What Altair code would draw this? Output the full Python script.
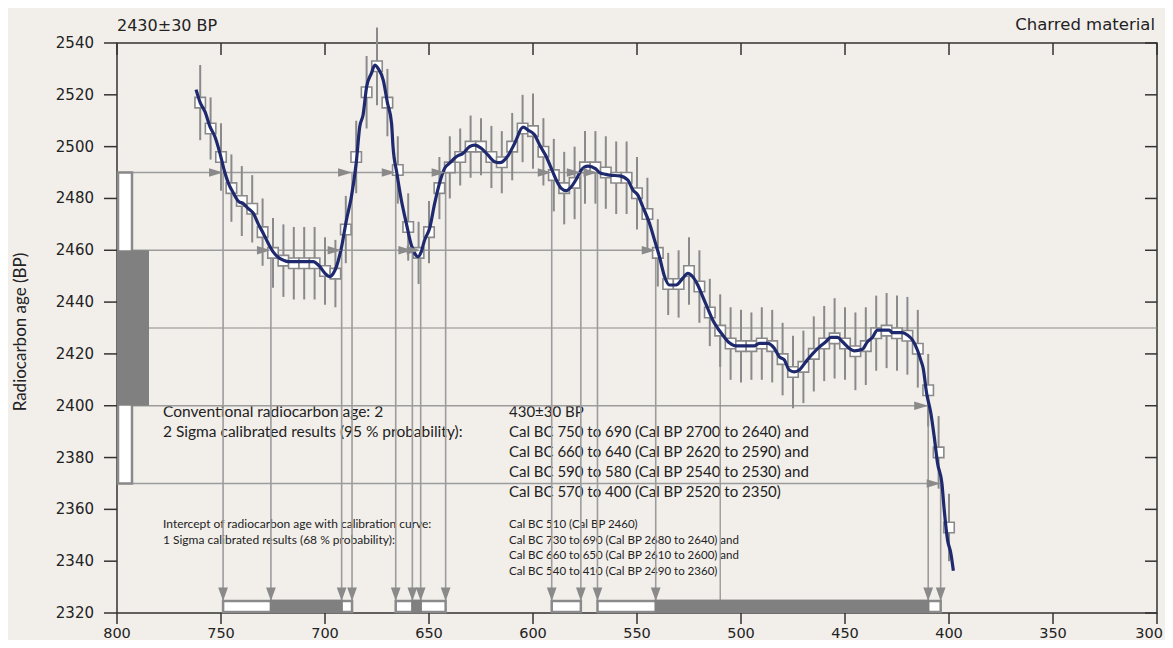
import altair as alt
import pandas as pd

# ---------------- data ----------------
x_ticks = [800, 750, 700, 650, 600, 550, 500, 450, 400, 350, 300]
y_ticks = [2320, 2340, 2360, 2380, 2400, 2420, 2440, 2460, 2480, 2500, 2520, 2540]

# calibration data points (cal BC, radiocarbon age BP, 1-sigma error)
pt_year = [760, 755, 750, 745, 740, 735, 730, 725, 720, 715, 710, 705, 700, 695, 690, 685,
           680, 675, 670, 665, 660, 655, 650, 645, 640, 635, 630, 625, 620, 615, 610, 605,
           600, 595, 590, 585, 580, 575, 570, 565, 560, 555, 550, 545, 540, 535, 530, 525,
           520, 515, 510, 505, 500, 495, 490, 485, 480, 475, 470, 465, 460, 455, 450, 445,
           440, 435, 430, 425, 420, 415, 410, 405, 400]
pt_bp = [2517, 2507, 2496, 2484, 2479, 2476, 2467, 2459, 2456, 2455, 2455, 2455, 2452, 2451, 2468, 2496,
         2521, 2531, 2517, 2491, 2469, 2459, 2467, 2484, 2492, 2496, 2500, 2500, 2496, 2494, 2500, 2507,
         2506, 2498, 2489, 2484, 2486, 2492, 2492, 2490, 2488, 2488, 2482, 2474, 2459, 2447, 2447, 2452,
         2446, 2436, 2429, 2424, 2423, 2423, 2424, 2423, 2418, 2413, 2415, 2420, 2424, 2426, 2424, 2421,
         2423, 2428, 2429, 2428, 2427, 2422, 2406, 2382, 2353]
pt_err = [14.5, 12, 13, 13, 13.5, 13, 13, 13.5, 14, 14, 14, 14, 13, 13, 13, 14,
          14, 15, 13, 13, 13, 12, 12, 12, 12, 11, 12, 11, 12, 12, 13, 13,
          14.5, 13, 14, 14, 14, 14, 14, 14, 14, 14, 14, 14, 13, 12, 13, 13,
          14, 13, 14, 14, 14, 13, 14, 14, 14, 14, 14, 14.5, 14.5, 15.5, 14, 15,
          15, 14.5, 14.5, 14.5, 15, 15, 14, 14, 13]

# calibration curve
curve_year = [762, 760, 757.7, 755.3, 753, 750.5, 748.5, 746.5, 744, 741.7, 739.3, 737, 734.5, 732,
              729.7, 727.3, 725, 722.5, 720, 717.7, 712, 705.7, 702.5, 700, 697.7, 696, 694.5, 692,
              689.7, 687.3, 685, 683.3, 681.7, 680, 677.7, 676, 674.5, 672, 670, 668, 667.3, 665.5,
              663.3, 660.9, 658.5, 657, 655.3, 653.7, 652.1, 649.7, 647.3, 644.9, 642.5, 640.1, 636.9,
              633.7, 630.5, 628.1, 624.9, 621.7, 618.5, 616, 612.1, 608.8, 604.8, 602.4, 599.2, 596.8,
              593.6, 591.2, 588.8, 586.4, 584, 581.6, 579.2, 576.8, 573.6, 570, 568, 565, 563.2, 558.4,
              554.4, 552, 549.6, 547.2, 544, 541.6, 539.2, 536.8, 534.4, 531.2, 528, 525.6, 523.2,
              520.8, 518.4, 516, 513.6, 511.2, 508.8, 505.6, 502.4, 497.6, 493.6, 491.2, 487.2, 484,
              481.6, 479.2, 476.8, 474.4, 472, 468.8, 465.6, 462.4, 459.2, 456.8, 453.6, 451.2, 448,
              445.6, 441.6, 439.2, 436.8, 434.4, 432, 428.8, 427.2, 422.4, 420, 417.6, 415.2, 413.6,
              412.4, 410.8, 408.7, 407.1, 405.5, 403.4, 402.3, 400.7, 399.1, 397.9]
curve_bp = [2522, 2517, 2513.5, 2507.7, 2504, 2497.4, 2491, 2486, 2482, 2479, 2478, 2476.2, 2474.3, 2470,
            2466.6, 2462.7, 2459.5, 2457.3, 2456.2, 2455.6, 2455.6, 2455.6, 2453.7, 2451.1, 2449.8, 2451.1, 2453.7, 2461.4,
            2471.7, 2480.7, 2493.6, 2507.7, 2512.2, 2523, 2528.3, 2531.5, 2530.2, 2525.7, 2517, 2509, 2500, 2490,
            2479.4, 2470.4, 2462, 2459, 2457.5, 2459.5, 2464, 2468.5, 2478, 2486, 2491.6, 2493.6, 2496.1,
            2497.4, 2500, 2500.6, 2499.4, 2496.8, 2494.2, 2493.8, 2496.4, 2501.3, 2507.5, 2506.4, 2504.5, 2500.6,
            2496.1, 2491.6, 2487.1, 2483.9, 2483, 2484.5, 2487.4, 2491, 2492.5, 2491.5, 2490, 2489.3, 2489, 2488.7,
            2487.1, 2483.3, 2481.3, 2476.8, 2470.4, 2464, 2457.5, 2450, 2446.6, 2446.6, 2449.2, 2451.1, 2449.8,
            2446.6, 2442.1, 2437.6, 2433.1, 2429.9, 2427.3, 2424.3, 2423.1, 2423.1, 2423.1, 2424.1, 2424.1, 2422.2,
            2418.9, 2417.7, 2413.8, 2413.1, 2413.8, 2417, 2420, 2422.6, 2424.7, 2426.4, 2426.4, 2424.7, 2422.2,
            2421.2, 2421.8, 2424.7, 2426.4, 2429.2, 2429.2, 2429.2, 2428.2, 2428.2, 2427.3, 2425.4, 2421.5, 2417.7,
            2414.4, 2405, 2397, 2388, 2377.8, 2370, 2359.8, 2348.2, 2343, 2336.3]

age_bp = [2430]
sigma1_bp = [2460, 2400]
sigma2_bp = [2490, 2370]

line_level = [2490, 2460, 2400, 2370]
line_from = [800, 800, 800, 800]
line_to = [569, 541, 410, 404]

icpt_year = [749, 726, 692, 687, 666, 658, 654, 642, 591, 577, 569, 541, 410, 404]
icpt_level = [2490, 2460, 2460, 2490, 2490, 2460, 2460, 2490, 2490, 2490, 2490, 2460, 2400, 2370]
mean_icpt_year = [510]

s2_from = [749, 666, 591, 569]
s2_to = [687, 642, 577, 404]
s1_from = [726, 658, 541]
s1_to = [692, 654, 410]

conv_label_lines = ["Conventional radiocarbon age: 2",
                    "2 Sigma calibrated results (95 % probability):"]
conv_value_lines = ["430\u00b130 BP",
                    "Cal BC 750 to 690 (Cal BP 2700 to 2640) and",
                    "Cal BC 660 to 640 (Cal BP 2620 to 2590) and",
                    "Cal BC 590 to 580 (Cal BP 2540 to 2530) and",
                    "Cal BC 570 to 400 (Cal BP 2520 to 2350)"]
small_label_lines = ["Intercept of radiocarbon age with calibration curve:",
                     "1 Sigma calibrated results (68 % probability):"]
small_value_lines = ["Cal BC 510 (Cal BP 2460)",
                     "Cal BC 730 to 690 (Cal BP 2680 to 2640) and",
                     "Cal BC 660 to 650 (Cal BP 2610 to 2600) and",
                     "Cal BC 540 to 410 (Cal BP 2490 to 2360)"]
sample_label = "2430\u00b130 BP"
material_label = "Charred material"
y_title = "Radiocarbon age (BP)"

# ---------------- frames ----------------
pts = pd.DataFrame({"year": pt_year, "bp": pt_bp, "err": pt_err})
pts["lo"] = pts["bp"] - pts["err"]
pts["hi"] = pts["bp"] + pts["err"]
curve = pd.DataFrame({"year": curve_year, "bp": curve_bp})
hlines = pd.DataFrame({"level": line_level, "x0": line_from, "x1": line_to})
mean_line = pd.DataFrame({"level": age_bp, "x0": [800], "x1": [300]})
icpt = pd.DataFrame({"year": icpt_year, "level": icpt_level})
mean_icpt = pd.DataFrame({"year": mean_icpt_year, "level": age_bp})
s2 = pd.DataFrame({"x0": s2_from, "x1": s2_to})
s1 = pd.DataFrame({"x0": s1_from, "x1": s1_to})
box2 = pd.DataFrame({"hi": [sigma2_bp[0]], "lo": [sigma2_bp[1]]})
box1 = pd.DataFrame({"hi": [sigma1_bp[0]], "lo": [sigma1_bp[1]]})
xt = pd.DataFrame({"year": x_ticks})
yt = pd.DataFrame({"bp": y_ticks})
one = pd.DataFrame({"k": [0]})

W, H = 1040, 570
GRAY_LINE = "#9c9c9c"
GRAY_MARK = "#8a8a8a"
FILL_GRAY = "#808080"
NAVY = "#1f2a6e"
INK = "#222222"
AXIS_INK = "#333333"

XS = alt.Scale(domain=[300, 800], reverse=True, nice=False, zero=False)
YS = alt.Scale(domain=[2320, 2540], nice=False, zero=False)


def X(f, **kw):
    return alt.X(f, type="quantitative", scale=XS, axis=None, **kw)


def Y(f, **kw):
    return alt.Y(f, type="quantitative", scale=YS, axis=None, **kw)


# error bars
err_bars = alt.Chart(pts).mark_rule(color=GRAY_MARK, strokeWidth=2).encode(
    x=X("year"), y=Y("lo"), y2="hi")


def text_block(lines, px, py, size, lh, font="Lato"):
    return alt.Chart(one).mark_text(text=lines, align="left", baseline="alphabetic",
                                    font=font, fontSize=size, lineHeight=lh, color=INK).encode(
        x=alt.value(px), y=alt.value(py))


t1 = text_block(conv_label_lines, 46, 374, 15.5, 20)
t2 = text_block(conv_value_lines, 392, 374, 15, 20)
t3 = text_block(small_label_lines, 46, 485, 12, 15.5)
t4 = text_block(small_value_lines, 392, 485, 11.5, 15.5)

t_sample = alt.Chart(one).mark_text(text=sample_label, align="left", baseline="middle",
                                    font="DejaVu Sans", fontSize=16, color=INK).encode(
    x=alt.value(0), y=alt.value(-17))
t_mat = alt.Chart(one).mark_text(text=material_label, align="right", baseline="middle",
                                 font="DejaVu Sans", fontSize=16.5, color=INK).encode(
    x=alt.value(W - 2), y=alt.value(-18))
t_ytitle = alt.Chart(one).mark_text(text=y_title, align="center", baseline="middle",
                                    font="Lato", fontSize=17, color=INK, angle=270).encode(
    x=alt.value(-96), y=alt.value(289))

# horizontal range lines
h_rules = alt.Chart(hlines).mark_rule(color=GRAY_LINE, strokeWidth=1.6).encode(
    x=X("x0"), x2="x1", y=Y("level"))
m_rule = alt.Chart(mean_line).mark_rule(color="#8c8c8c", strokeWidth=1.2).encode(
    x=X("x0"), x2="x1", y=Y("level"))

# vertical drop lines
v_rules = alt.Chart(icpt).mark_rule(color=GRAY_LINE, strokeWidth=1.6).encode(
    x=X("year"), y=Y("level"), y2=alt.value(558))
m_vrule = alt.Chart(mean_icpt).mark_rule(color="#8c8c8c", strokeWidth=1.2).encode(
    x=X("year"), y=Y("level"), y2=alt.value(558))

# squares and curve
squares = alt.Chart(pts).mark_point(shape="square", filled=True, fill="white", stroke=GRAY_MARK,
                                    strokeWidth=1.6, size=110, opacity=1, fillOpacity=1).encode(
    x=X("year"), y=Y("bp"))
curve_line = alt.Chart(curve).mark_line(color=NAVY, strokeWidth=3.2, interpolate="monotone").encode(
    x=X("year"), y=Y("bp"))

# arrowheads
RIGHT_ARROW = "M-1,-0.3L-1,0.3L0,0Z"
DOWN_ARROW = "M-0.36,-1L0.36,-1L0,0Z"
h_arrows = alt.Chart(icpt).mark_point(shape=RIGHT_ARROW, size=784, filled=True, color=GRAY_MARK,
                                      opacity=1, strokeWidth=0).encode(x=X("year"), y=Y("level"))
v_arrows = alt.Chart(icpt).mark_point(shape=DOWN_ARROW, size=729, filled=True, color=GRAY_MARK,
                                      opacity=1, strokeWidth=0).encode(x=X("year"), y=alt.value(558))

# bottom range bars
bar2 = alt.Chart(s2).mark_rect(fill="white", stroke=GRAY_MARK, strokeWidth=2.5).encode(
    x=X("x0"), x2="x1", y=alt.value(558), y2=alt.value(569))
bar1 = alt.Chart(s1).mark_rect(fill=FILL_GRAY, stroke=FILL_GRAY, strokeWidth=2.5).encode(
    x=X("x0"), x2="x1", y=alt.value(558), y2=alt.value(569))

# left range boxes
lbox2 = alt.Chart(box2).mark_rect(fill="white", stroke=GRAY_MARK, strokeWidth=2.5).encode(
    x=alt.value(1), x2=alt.value(15), y=Y("hi"), y2="lo")
lbox1 = alt.Chart(box1).mark_rect(fill=FILL_GRAY).encode(
    x=alt.value(0), x2=alt.value(32), y=Y("hi"), y2="lo")

# axes drawn from the tick arrays
top_ticks = alt.Chart(xt).mark_rule(color=AXIS_INK, strokeWidth=1.5).encode(
    x=X("year"), y=alt.value(0), y2=alt.value(12))
bottom_ticks = alt.Chart(xt).mark_rule(color=AXIS_INK, strokeWidth=1.5).encode(
    x=X("year"), y=alt.value(H), y2=alt.value(H + 11))
bottom_labels = alt.Chart(xt).transform_filter(alt.datum.year > 300).mark_text(
    font="DejaVu Sans", fontSize=14.5, color=INK, baseline="middle", align="center").encode(
    x=X("year"), y=alt.value(H + 21), text=alt.Text("year:Q", format="d"))
last_label = alt.Chart(xt).transform_filter(alt.datum.year == 300).mark_text(
    font="DejaVu Sans", fontSize=14.5, color=INK, baseline="middle", align="right", dx=6).encode(
    x=X("year"), y=alt.value(H + 21), text=alt.Text("year:Q", format="d"))
right_ticks = alt.Chart(yt).mark_rule(color=AXIS_INK, strokeWidth=1.5).encode(
    x=alt.value(W - 12), x2=alt.value(W), y=Y("bp"))
left_ticks = alt.Chart(yt).mark_rule(color=AXIS_INK, strokeWidth=1.5).encode(
    x=alt.value(-13), x2=alt.value(0), y=Y("bp"))
left_labels = alt.Chart(yt).mark_text(font="DejaVu Sans", fontSize=15, color=INK,
                                      baseline="middle", align="right").encode(
    x=alt.value(-23), y=Y("bp"), text=alt.Text("bp:Q", format="d"))

chart = alt.layer(
    t1, t2, t3, t4, h_rules, m_rule, v_rules, m_vrule, err_bars,
    squares, curve_line, h_arrows, v_arrows, bar2, bar1, lbox2, lbox1,
    top_ticks, bottom_ticks, bottom_labels, last_label, right_ticks, left_ticks, left_labels,
    t_sample, t_mat, t_ytitle,
).properties(
    width=W, height=H,
    padding={"left": 109, "top": 35, "right": 8, "bottom": 27},
    autosize=alt.AutoSizeParams(type="none"),
    background="#f2efeb",
).configure_view(
    stroke=AXIS_INK, strokeWidth=1.5
)

chart.save("out.html", embed_options={"renderer": "svg", "actions": False})
